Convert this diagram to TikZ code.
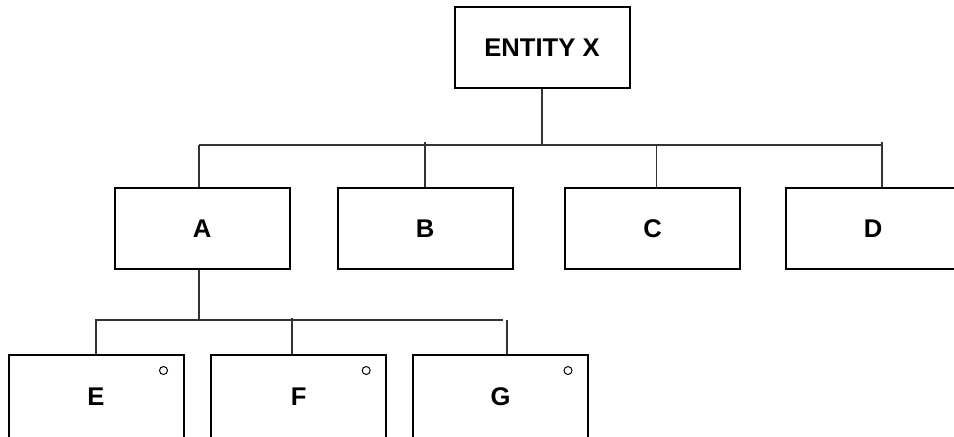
\documentclass[tikz,border=0pt]{standalone}
\usepackage{fontspec}
\setmainfont{Liberation Sans}
\usetikzlibrary{positioning,calc}
\tikzset{
  entity/.style={draw=black, line width=1pt, fill=white, inner sep=0pt,
    minimum width=87.5pt, minimum height=40.5pt,
    font=\bfseries\fontsize{12.8}{15}\selectfont},
  subentity/.style={entity, minimum height=42.5pt},
  link/.style={draw=black!80, line width=0.65pt},
  marker/.style={circle, draw=black, line width=0.5pt, fill=white,
    minimum size=4pt, inner sep=0pt}
}
\begin{document}
\begin{tikzpicture}[x=0.5pt, y=-0.5pt]
  \useasboundingbox (0,0) rectangle (954,436);
  \clip (0,0) rectangle (954,436);
  % bus lines
  \coordinate (busA) at (199,145);
  \coordinate (busD) at (883,145);
  \coordinate (subE) at (95,320);
  \coordinate (subG) at (503,320);
  \draw[link] (busA) -- (busD);
  \draw[link] (subE) -- (subG);
  % entities
  \node[entity] (X) at (542,47.5) {ENTITY X};
  \node[entity] (A) at (202,228.5) {A};
  \node[entity] (B) at (425,228.5) {B};
  \node[entity] (C) at (652.5,228.5) {C};
  \node[entity] (D) at (873,228.5) {D};
  \node[subentity] (E) at (96,397) {E};
  \node[subentity] (F) at (298.7,397) {F};
  \node[subentity] (G) at (500.5,397) {G};
  % stubs
  \draw[link] (X.south) -- (X.south |- busA);
  \draw[link] (busA) -- (busA |- A.north);
  \draw[link] (B.north) -- ($(B.north |- busA)+(0,-3)$);
  \draw[link] ([xshift=2pt]C.north) -- ([xshift=2pt]C.north |- busA);
  \draw[link] ([xshift=4.5pt]D.north) -- ($([xshift=4.5pt]D.north |- busA)+(0,-3)$);
  \draw[link] ([xshift=-1.5pt]A.south) -- ([xshift=-1.5pt]A.south |- subE);
  \draw[link] (E.north) -- (E.north |- subE);
  \draw[link] ([xshift=-3.3pt]F.north) -- ($([xshift=-3.3pt]F.north |- subE)+(0,-2)$);
  \draw[link] ([xshift=3.2pt]G.north) -- ([xshift=3.2pt]G.north |- subE);
  % corner markers
  \node[marker] (Eo) at ($(E.north east)+(-10.5pt,-8.5pt)$) {};
  \node[marker] (Fo) at ($(F.north east)+(-10.5pt,-8.5pt)$) {};
  \node[marker] (Go) at ($(G.north east)+(-10.5pt,-8.5pt)$) {};
\end{tikzpicture}
\end{document}
